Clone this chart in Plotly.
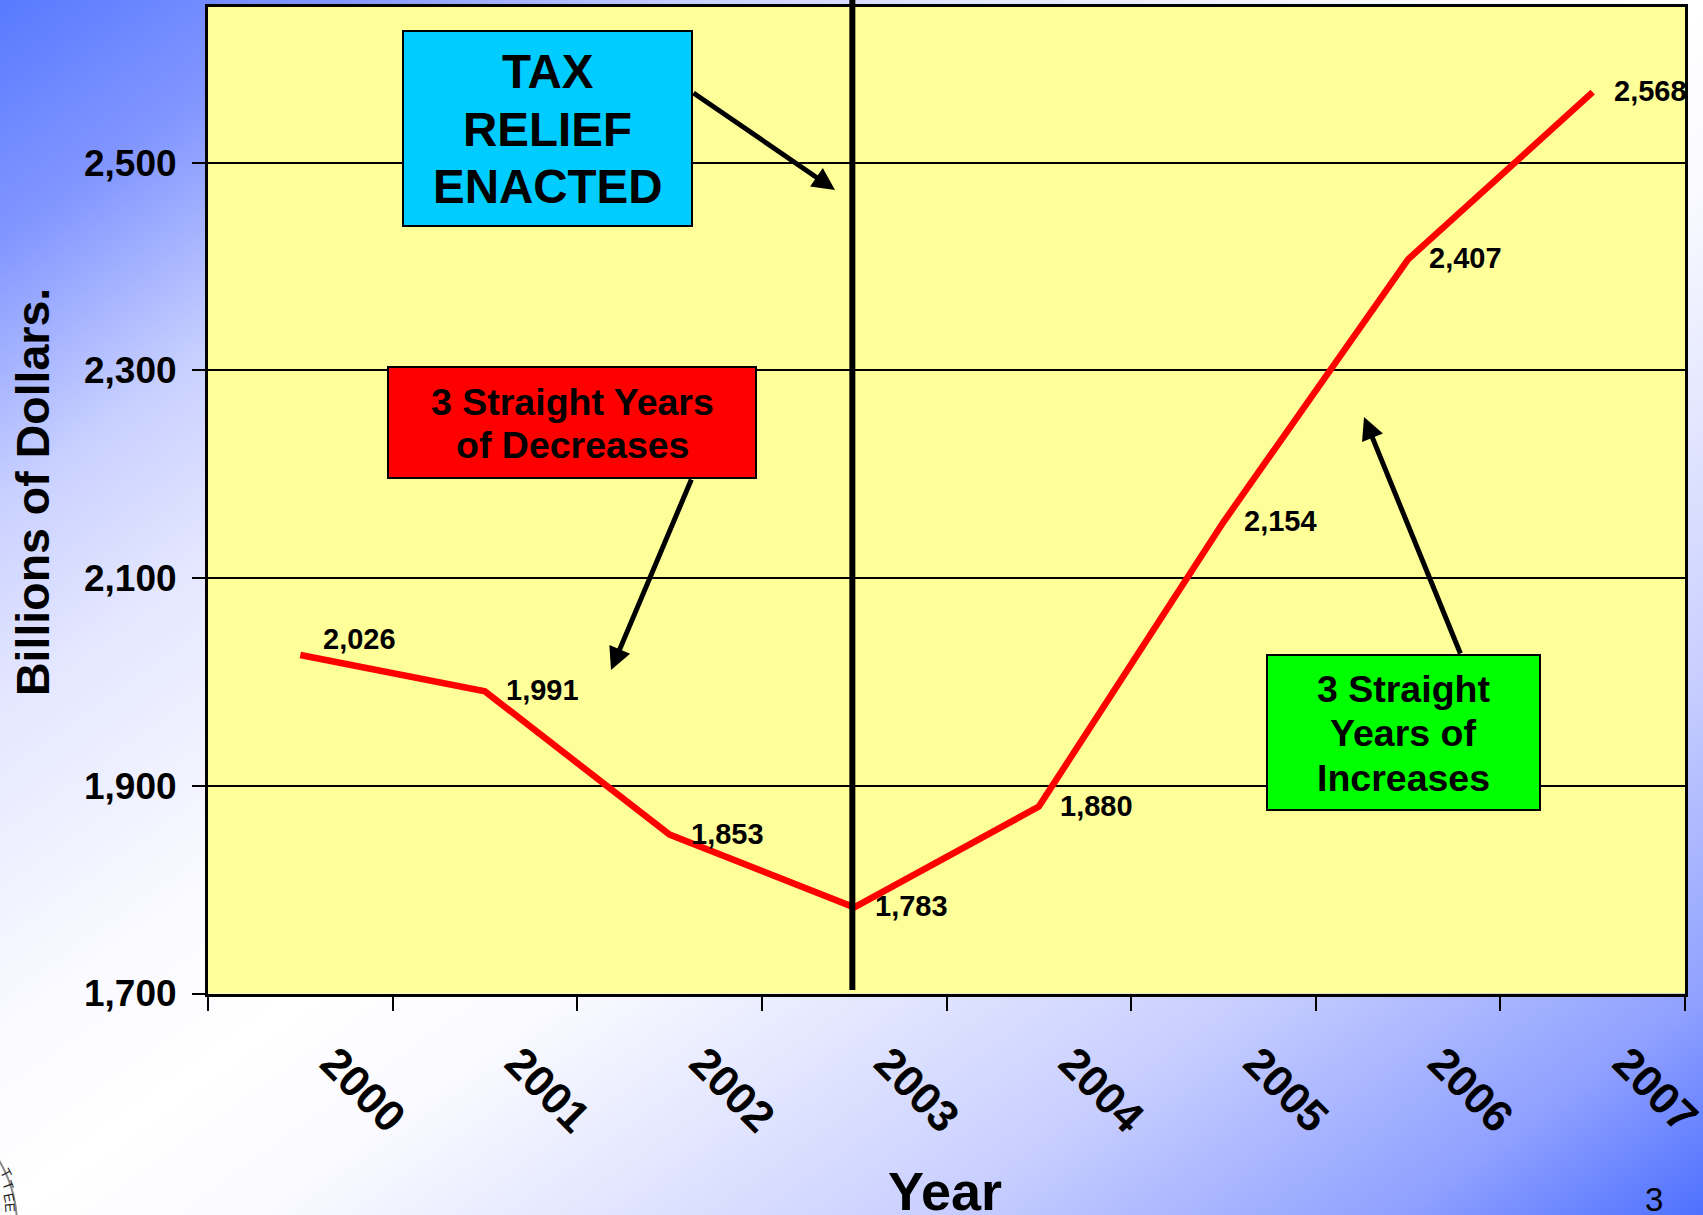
import base64
import struct
import zlib

import numpy as np
import plotly.graph_objects as go

years = ["2000", "2001", "2002", "2003", "2004", "2005", "2006", "2007"]
receipts = [2026, 1991, 1853, 1783, 1880, 2154, 2407, 2568]
y_ticks = [1700, 1900, 2100, 2300, 2500]
y_tick_labels = ["1,700", "1,900", "2,100", "2,300", "2,500"]

W, H = 1703, 1215
L, R, T, B = 208, 1685, 7, 993.5
FONT = "Liberation Sans"


def px(v):
    return v / W


def py(v):
    return 1 - v / H


def gradient_png():
    """Page background: corner-to-corner blue - white - blue ramp, as an inline PNG."""
    stops = [0, 0.2, 0.41, 0.58, 0.85, 1.0, 1.15, 1.3, 1.55, 1.82, 2.0]
    red = [88, 130, 200, 228, 250, 255, 250, 232, 200, 143, 78]
    green = [122, 150, 208, 231, 250, 255, 250, 235, 207, 160, 112]
    xx, yy = np.meshgrid(np.arange(W) / W, np.arange(H) / H)
    s = xx + yy
    rgb = np.dstack([np.interp(s, stops, red), np.interp(s, stops, green), np.full(s.shape, 255.0)])
    rows = np.round(rgb).astype(np.uint8)
    raw = b"".join(b"\x00" + rows[i].tobytes() for i in range(H))

    def chunk(tag, data):
        return struct.pack(">I", len(data)) + tag + data + struct.pack(">I", zlib.crc32(tag + data))

    png = (b"\x89PNG\r\n\x1a\n" + chunk(b"IHDR", struct.pack(">IIBBBBB", W, H, 8, 2, 0, 0, 0))
           + chunk(b"IDAT", zlib.compress(raw, 9)) + chunk(b"IEND", b""))
    return "data:image/png;base64," + base64.b64encode(png).decode()


fig = go.Figure()
fig.add_trace(go.Scatter(x=years, y=receipts, mode="lines",
                         line=dict(color="#ff0000", width=6.5), showlegend=False))

annotations = []
for i, v in enumerate(receipts):
    annotations.append(dict(x=i, y=v, xref="x", yref="y", text=f"<b>{v:,}</b>", showarrow=False,
                            xanchor="left", yanchor="middle", xshift=21 if i == 0 else 19,
                            yshift=16 if i == 0 else 1,
                            font=dict(family=FONT, size=29, color="black")))


def label(text, cx, cy, size, color="black", **kw):
    annotations.append(dict(x=px(cx), y=py(cy), xref="paper", yref="paper", text=text, showarrow=False,
                            xanchor="center", yanchor="middle", align="center",
                            font=dict(family=FONT, size=size, color=color), **kw))


def arrow(x0, y0, x1, y1):
    annotations.append(dict(x=px(x1), y=py(y1), xref="paper", yref="paper", ax=x0 - x1, ay=y0 - y1,
                            axref="pixel", ayref="pixel", text="", showarrow=True, arrowhead=2,
                            arrowsize=0.9, arrowwidth=5, arrowcolor="black", standoff=0, startstandoff=0))


for line, cy in [("TAX", 72), ("RELIEF", 130), ("ENACTED", 187)]:
    label(f"<b>{line}</b>", 547.5, cy, 47.5)
for line, cy in [("3 Straight Years", 402), ("of Decreases", 445)]:
    label(f"<b>{line}</b>", 572, cy, 37.5)
for line, cy in [("3 Straight", 689), ("Years of", 733), ("Increases", 778)]:
    label(f"<b>{line}</b>", 1403, cy, 37.5)
label("<b>Billions of Dollars.</b>", 33, 492, 46.5, textangle=-90)
label("<b>Year</b>", 945, 1191, 54)
label("3", 1654, 1199, 33)
for ch, cx, cy, ang in [("T", 6, 1173, 62), ("T", 8, 1185, 70), ("E", 9, 1197, 78), ("E", 10, 1207, 86)]:
    label(ch, cx, cy, 14, color="#222222", textangle=ang)
arrow(692, 92, 835, 190)
arrow(692, 478, 611, 670)
arrow(1461, 655, 1364, 417)

shapes = [
    dict(type="rect", xref="paper", yref="paper", x0=px(L), x1=px(R), y0=py(B), y1=py(T),
         fillcolor="#ffff99", line=dict(width=0), layer="below"),
    dict(type="line", xref="x", yref="paper", x0=2.99, x1=2.99, y0=py(990), y1=1,
         line=dict(color="black", width=6)),
    dict(type="rect", xref="paper", yref="paper", x0=px(403), x1=px(692), y0=py(226), y1=py(31),
         fillcolor="#00ccff", line=dict(color="black", width=2)),
    dict(type="rect", xref="paper", yref="paper", x0=px(388), x1=px(756), y0=py(478), y1=py(367),
         fillcolor="#ff0000", line=dict(color="black", width=2)),
    dict(type="rect", xref="paper", yref="paper", x0=px(1267), x1=px(1540), y0=py(810), y1=py(655),
         fillcolor="#00ff00", line=dict(color="black", width=2)),
    dict(type="circle", xref="paper", yref="paper", x0=px(-233), x1=px(17), y0=py(1350), y1=py(1100),
         fillcolor="rgba(0,0,0,0)", line=dict(color="#888888", width=2)),
]

fig.update_layout(
    width=W, height=H, margin=dict(l=0, r=0, t=0, b=0), showlegend=False,
    paper_bgcolor="white", plot_bgcolor="rgba(0,0,0,0)",
    font=dict(family=FONT, color="black"),
    annotations=annotations, shapes=shapes,
    images=[dict(source=gradient_png(), xref="paper", yref="paper", x=0, y=1, sizex=1, sizey=1,
                 sizing="stretch", xanchor="left", yanchor="top", layer="below")],
    xaxis=dict(domain=[px(L), px(R)], type="category", categoryorder="array", automargin=False,
               categoryarray=years, range=[-0.5, 7.5], tickson="boundaries", ticks="outside",
               ticklen=14, tickwidth=2, tickcolor="black", showline=True, linecolor="black",
               linewidth=3, mirror=True, showgrid=False, tickangle=45, ticklabelshift=33,
               ticklabelstandoff=23, tickfont=dict(family=FONT, size=44, weight="bold")),
    yaxis=dict(domain=[py(B), py(T)], range=[1700, 2650], tickvals=y_ticks, automargin=False,
               ticktext=y_tick_labels, ticks="outside", ticklen=13, tickwidth=2, tickcolor="black",
               showline=True, linecolor="black", linewidth=3, mirror=True, showgrid=True,
               gridcolor="black", gridwidth=2, zeroline=False, ticklabelstandoff=8,
               tickfont=dict(family=FONT, size=37, weight="bold")),
)
fig.write_html("out.html", config={"displayModeBar": False},
               post_script="document.body.style.margin='0';document.body.style.overflow='hidden';")
